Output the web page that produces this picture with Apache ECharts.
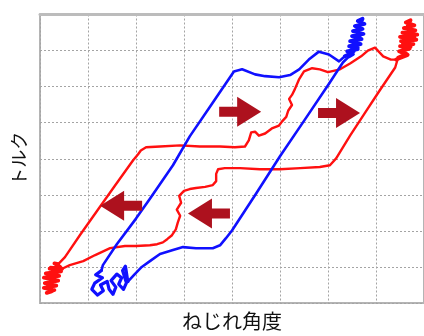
<!DOCTYPE html>
<html>
<head>
<meta charset="utf-8">
<script src="https://cdn.jsdelivr.net/npm/echarts@6/dist/echarts.min.js"></script>
<style>
  html, body { margin: 0; padding: 0; background: #ffffff; }
  #chart { width: 424px; height: 336px; }
</style>
</head>
<body>
<div id="chart"></div>
<script>
// Torsion angle / torque hysteresis loops, in grid units (-4 .. 4 on both axes).

// Red specimen: loading branch, from the lower-left end to the upper-right end
const redLoading = [
  [-3.54, -3.05], [-3.38, -2.95], [-3.10, -2.84], [-2.85, -2.67], [-2.54, -2.48],
  [-2.23, -2.42], [-2.00, -2.42], [-1.71, -2.40], [-1.56, -2.37], [-1.44, -2.32],
  [-1.35, -2.23], [-1.25, -2.12], [-1.17, -1.96], [-1.13, -1.77], [-1.08, -1.58],
  [-1.15, -1.41], [-1.06, -1.22], [-1.10, -1.03], [-1.00, -0.89], [-0.88, -0.84],
  [-0.75, -0.81], [-0.56, -0.78], [-0.40, -0.73], [-0.33, -0.62], [-0.33, -0.42],
  [-0.29, -0.29], [-0.15, -0.26], [0.17, -0.26], [0.58, -0.29], [1.00, -0.29],
  [1.42, -0.26], [1.83, -0.23], [2.04, -0.18], [2.17, 0.01], [2.46, 0.64],
  [2.77, 1.27], [3.08, 1.90], [3.40, 2.53], [3.46, 2.80]
];
// Red specimen: scatter at the upper-right turning point
const redTopEnd = [
  [3.46, 2.80], [3.62, 2.90], [3.48, 2.98], [3.70, 3.05], [3.50, 3.12],
  [3.78, 3.18], [3.52, 3.26], [3.84, 3.30], [3.50, 3.38], [3.86, 3.44],
  [3.55, 3.50], [3.82, 3.56], [3.58, 3.62], [3.80, 3.70], [3.62, 3.78],
  [3.72, 3.84], [3.66, 3.68], [3.76, 3.50], [3.60, 3.40], [3.80, 3.36],
  [3.56, 3.20], [3.72, 3.10], [3.54, 3.00], [3.66, 2.88], [3.42, 2.75]
];
// Red specimen: unloading branch, from the upper-right end back to the lower-left end
const redUnloading = [
  [3.42, 2.75], [3.31, 2.75], [3.15, 2.84], [2.98, 3.08], [2.83, 3.00], [2.69, 2.84],
  [2.46, 2.64], [2.25, 2.48], [2.00, 2.40], [1.83, 2.48], [1.67, 2.51],
  [1.50, 2.42], [1.40, 2.21], [1.31, 1.93], [1.25, 1.77], [1.19, 1.66],
  [1.25, 1.49], [1.17, 1.33], [1.13, 1.16], [1.04, 1.03], [0.98, 0.92],
  [0.83, 0.84], [0.69, 0.70], [0.56, 0.64], [0.48, 0.75], [0.40, 0.73],
  [0.35, 0.51], [0.27, 0.34], [0.06, 0.32], [-0.25, 0.34], [-0.67, 0.34],
  [-1.08, 0.37], [-1.50, 0.34], [-1.79, 0.32], [-1.90, 0.23], [-1.96, 0.12],
  [-2.06, -0.04], [-2.44, -0.75], [-2.75, -1.33], [-3.17, -2.12], [-3.48, -2.73],
  [-3.62, -2.92]
];
// Red specimen: scatter at the lower-left turning point
const redBottomEnd = [
  [-3.62, -2.92], [-3.70, -2.90], [-3.58, -3.00], [-3.80, -3.05], [-3.56, -3.12],
  [-3.88, -3.18], [-3.60, -3.25], [-3.92, -3.30], [-3.62, -3.38], [-3.90, -3.45],
  [-3.66, -3.52], [-3.92, -3.58], [-3.70, -3.64], [-3.86, -3.72], [-3.76, -3.68],
  [-3.84, -3.52], [-3.72, -3.40], [-3.86, -3.30], [-3.66, -3.16], [-3.78, -3.02],
  [-3.54, -3.05]
];

// Blue specimen: loading branch
const blueLoading = [
  [-2.17, -3.41], [-2.02, -3.19], [-1.88, -3.00], [-1.71, -2.84], [-1.50, -2.64],
  [-1.23, -2.53], [-1.02, -2.45], [-0.75, -2.48], [-0.40, -2.48], [-0.25, -2.40],
  [-0.13, -2.21], [0.00, -1.99], [0.50, -0.97], [1.00, 0.07], [1.50, 1.05],
  [2.00, 2.04], [2.31, 2.67], [2.44, 2.84]
];
// Blue specimen: scatter at the upper turning point
const blueTopEnd = [
  [2.44, 2.84], [2.52, 2.90], [2.40, 2.98], [2.62, 3.04], [2.44, 3.12],
  [2.68, 3.18], [2.46, 3.26], [2.70, 3.32], [2.50, 3.40], [2.74, 3.46],
  [2.52, 3.54], [2.72, 3.60], [2.56, 3.68], [2.76, 3.74], [2.62, 3.82],
  [2.72, 3.88], [2.66, 3.72], [2.58, 3.56], [2.66, 3.40], [2.56, 3.24],
  [2.62, 3.08], [2.48, 2.92], [2.35, 2.84]
];
// Blue specimen: unloading branch
const blueUnloading = [
  [2.35, 2.84], [2.23, 2.70], [2.02, 2.89], [1.81, 2.97], [1.60, 2.75],
  [1.40, 2.48], [1.21, 2.32], [0.98, 2.26], [0.69, 2.29], [0.48, 2.34],
  [0.21, 2.48], [0.04, 2.42], [-0.42, 1.52], [-0.88, 0.62], [-1.23, -0.18],
  [-1.71, -1.11], [-2.00, -1.66], [-2.40, -2.37], [-2.69, -2.95], [-2.72, -3.10]
];
// Blue specimen: scatter at the lower turning point
const blueBottomEnd = [
  [-2.72, -3.10], [-2.84, -3.22], [-2.70, -3.30], [-2.86, -3.45], [-2.92, -3.62],
  [-2.80, -3.78], [-2.68, -3.66], [-2.74, -3.50], [-2.60, -3.40], [-2.56, -3.62],
  [-2.48, -3.76], [-2.42, -3.56], [-2.52, -3.38], [-2.40, -3.20], [-2.30, -3.30],
  [-2.36, -3.48], [-2.26, -3.62], [-2.20, -3.44], [-2.28, -3.10], [-2.22, -2.98],
  [-2.17, -3.41]
];

// Direction markers on the loops: [x, y]
const arrowsRight = [[0.17, 1.30], [2.23, 1.27]];
const arrowsLeft = [[-2.31, -1.30], [-0.48, -1.52]];

const xName = 'ねじれ角度';
const yName = 'トルク';

const RED = '#ff1010';
const BLUE = '#1010ff';
const ARROW = '#ad111e';

const arrowPath = 'path://M0,10L18,10L18,0L42,15L18,30L18,20L0,20Z';
const gridDots = { color: '#a4a4a4', width: 1, type: [2, 2] };
const font = '"Noto Sans CJK JP", "Noto Sans", sans-serif';

function trace(data, color, width, z) {
  return {
    type: 'line', data: data, showSymbol: false, silent: true, z: z,
    lineStyle: { color: color, width: width, join: 'round', cap: 'round' }
  };
}

const chart = echarts.init(document.getElementById('chart'), null, { renderer: 'canvas' });
chart.setOption({
  animation: false,
  backgroundColor: '#ffffff',
  grid: {
    left: 40, top: 14.5, width: 385, height: 292,
    show: true, borderColor: '#b4b4b4', borderWidth: 2, backgroundColor: 'transparent'
  },
  xAxis: [{
    type: 'value', min: -4, max: 4, interval: 1,
    name: xName, nameLocation: 'middle', nameGap: 8,
    nameTextStyle: { fontFamily: font, fontSize: 20, color: '#111111' },
    axisLine: { show: false }, axisTick: { show: false }, axisLabel: { show: false },
    splitLine: { show: true, lineStyle: gridDots }
  }, {
    // heavier frame edge along the top
    type: 'value', position: 'top', min: -4, max: 4,
    axisLine: { show: true, lineStyle: { color: '#bcbcbc', width: 3 } },
    axisTick: { show: false }, axisLabel: { show: false }, splitLine: { show: false }
  }],
  yAxis: {
    type: 'value', min: -4, max: 4, interval: 1,
    name: yName, nameLocation: 'middle', nameGap: 12, nameRotate: 90,
    nameTextStyle: { fontFamily: font, fontSize: 18, color: '#111111' },
    axisLine: { show: false }, axisTick: { show: false }, axisLabel: { show: false },
    splitLine: { show: true, lineStyle: gridDots }
  },
  series: [
    trace(redLoading, RED, 2.4, 3),
    trace(redTopEnd, RED, 3.8, 3),
    trace(redUnloading, RED, 2.4, 3),
    trace(redBottomEnd, RED, 3.8, 3),
    trace(blueLoading, BLUE, 2.6, 4),
    trace(blueTopEnd, BLUE, 3.8, 4),
    trace(blueUnloading, BLUE, 2.6, 4),
    trace(blueBottomEnd, BLUE, 3.2, 4),
    {
      type: 'scatter', data: arrowsRight, symbol: arrowPath, symbolSize: [42, 30],
      itemStyle: { color: ARROW, opacity: 1 }, silent: true, z: 5
    },
    {
      type: 'scatter', data: arrowsLeft, symbol: arrowPath, symbolSize: [42, 30],
      symbolRotate: 180, itemStyle: { color: ARROW, opacity: 1 }, silent: true, z: 5
    }
  ]
});
</script>
</body>
</html>
